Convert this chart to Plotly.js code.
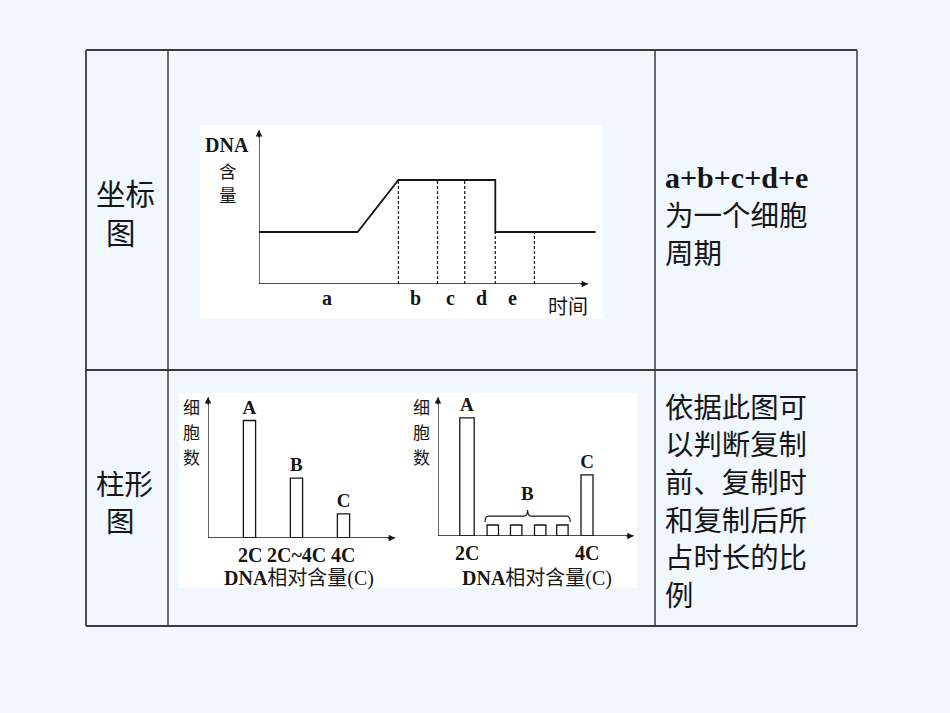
<!DOCTYPE html>
<html>
<head>
<meta charset="utf-8">
<script src="https://cdn.plot.ly/plotly-3.0.1.min.js"></script>
<style>html,body{margin:0;padding:0;background:#F0F7FE;}#chart{width:950px;height:713px;}</style>
</head>
<body>
<div id="chart"></div>
<script>
// ---------- data ----------
// chart 1: DNA content over one cell cycle
const cycleTime   = [0, 2.9, 4.1, 6.95, 6.95, 9.9];
const dnaContent  = [1, 1, 2, 2, 1, 1];
const phaseBounds = [4.1, 5.25, 6.05, 6.95, 8.1];
const boundLevels = [2, 2, 2, 1, 1];
const phaseNames  = ['a', 'b', 'c', 'd', 'e'];
const phaseMids   = [2.0, 4.6, 5.62, 6.53, 7.47];

// chart 2: cell counts by DNA content group
const groupCats   = ['2C', '2C~4C', '4C'];
const groupCounts = [10, 5.1, 2.05];
const groupNames  = ['A', 'B', 'C'];

// chart 3: cell counts by DNA relative content
const dnaLevels   = [2, 2.43, 2.82, 3.22, 3.59, 4];
const levelCounts = [10.2, 0.95, 0.95, 0.95, 0.95, 5.27];
const levelNames  = ['A', '', '', '', '', 'C'];
const levelTickVals = [2, 4];
const levelTickText = ['2C', '4C'];

// table texts
const leftTop    = ['坐标', '图'];
const leftBottom = ['柱形', '图'];
const rightTop   = ['a+b+c+d+e', '为一个细胞', '周期'];
const rightBottom = ['依据此图可', '以判断复制', '前、复制时', '和复制后所', '占时长的比', '例'];
const yLabelChars = ['细', '胞', '数'];
const dnaLabelChars = ['含', '量'];

// ---------- helpers ----------
const W = 950, H = 713;
const fx = p => p / W;
const fy = p => 1 - p / H;
const INK = '#161616';
const SERIF = 'Liberation Serif, Noto Sans CJK SC, serif';
const CJK = 'Noto Sans CJK SC, sans-serif';

// ---------- traces ----------
const dashX = [], dashY = [];
phaseBounds.forEach((b, i) => { dashX.push(b, b, null); dashY.push(0, boundLevels[i], null); });

const barText = {family: SERIF, size: 19, color: INK, weight: 'bold'};
const traces = [
  {type: 'scatter', mode: 'lines', x: cycleTime, y: dnaContent, xaxis: 'x', yaxis: 'y',
   line: {color: INK, width: 1.8}, hoverinfo: 'skip', showlegend: false, cliponaxis: false},
  {type: 'scatter', mode: 'lines', x: dashX, y: dashY, xaxis: 'x', yaxis: 'y',
   line: {color: INK, width: 1.2, dash: '3px,2px'}, hoverinfo: 'skip', showlegend: false},
  {type: 'bar', x: groupCats, y: groupCounts, xaxis: 'x2', yaxis: 'y2', width: 0.26,
   marker: {color: '#ffffff', line: {color: INK, width: 1.3}},
   text: groupNames, textposition: 'outside', cliponaxis: false, constraintext: 'none',
   textfont: barText, showlegend: false, hoverinfo: 'skip'},
  {type: 'bar', x: dnaLevels, y: levelCounts, xaxis: 'x3', yaxis: 'y3',
   width: [0.24, 0.19, 0.19, 0.19, 0.19, 0.2],
   marker: {color: '#ffffff', line: {color: INK, width: 1.3}},
   text: levelNames, textposition: 'outside', cliponaxis: false, constraintext: 'none',
   textfont: barText, showlegend: false, hoverinfo: 'skip'}
];

// ---------- axes ----------
const hidden = {showgrid: false, zeroline: false, showline: false, showticklabels: false, ticks: '', fixedrange: true};

// ---------- shapes ----------
const line = (x0, y0, x1, y1, w) => ({type: 'line', xref: 'paper', yref: 'paper',
  x0: fx(x0), y0: fy(y0), x1: fx(x1), y1: fy(y1), line: {color: '#3a3a3a', width: w || 1.5}, layer: 'above'});
const panel = (x0, y0, x1, y1) => ({type: 'rect', xref: 'paper', yref: 'paper', layer: 'below',
  x0: fx(x0), y0: fy(y0), x1: fx(x1), y1: fy(y1), fillcolor: '#ffffff', line: {width: 0}});

// brace over the small B bars, derived from their positions
const bLeft = dnaLevels[1] - 0.13, bRight = dnaLevels[4] + 0.13, bMid = (bLeft + bRight) / 2;
const yEnd = 1.2, yBar = 1.72, yTip = 2.25, dx = 0.06;
const bracePath = `M ${bLeft},${yEnd} Q ${bLeft},${yBar} ${bLeft + dx},${yBar} L ${bMid - dx},${yBar} ` +
  `Q ${bMid},${yBar} ${bMid},${yTip} Q ${bMid},${yBar} ${bMid + dx},${yBar} L ${bRight - dx},${yBar} ` +
  `Q ${bRight},${yBar} ${bRight},${yEnd}`;

const shapes = [
  panel(200, 125, 603, 319),
  panel(179, 393, 637, 588),
  line(86, 50, 857, 50, 2), line(86, 626, 857, 626, 1.8),
  line(86, 50, 86, 626, 1.8), line(857, 50, 857, 626, 1.5),
  line(168, 50, 168, 626, 1.5), line(655, 50, 655, 626, 1.5),
  line(86, 370, 857, 370, 1.8),
  {type: 'path', xref: 'x3', yref: 'y3', path: bracePath, line: {color: INK, width: 1.2}}
];

// ---------- axis lines with arrow tips ----------
const ann = [];
const axisArrow = (xr, yr, x0, y0, x1, y1, horiz) => {
  shapes.push({type: 'line', xref: xr, yref: yr, x0: x0, y0: y0, x1: x1, y1: y1,
    line: {color: INK, width: 1.3}});
  ann.push({xref: xr, yref: yr, axref: 'pixel', ayref: 'pixel', x: x1, y: y1,
    ax: horiz ? -9 : 0, ay: horiz ? 0 : 9, showarrow: true, arrowhead: 2, arrowsize: 1,
    arrowwidth: 1.3, arrowcolor: INK, text: ''});
};
axisArrow('x', 'y', 0, 0, 9.68, 0, true);      axisArrow('x', 'y', 0, 0, 0, 2.96, false);
axisArrow('x2', 'y2', -0.883, 0, 3.1, 0, true); axisArrow('x2', 'y2', -0.883, 0, -0.883, 12, false);
axisArrow('x3', 'y3', 1.517, 0, 4.78, 0, true); axisArrow('x3', 'y3', 1.517, 0, 1.517, 12, false);

const txt = (x, y, text, size, family, anchor, extra) => ann.push(Object.assign({
  xref: 'paper', yref: 'paper', x: fx(x), y: fy(y), text: text, showarrow: false,
  xanchor: anchor || 'center', yanchor: 'middle', borderpad: 0,
  font: {family: family, size: size, color: INK}}, extra || {}));

// chart 1 labels
txt(227, 145, '<b>DNA</b>', 20, SERIF);
dnaLabelChars.forEach((c, i) => txt(228, 170 + i * 24.5, c, 17.5, CJK));
txt(568, 305, '时间', 20, CJK);
phaseNames.forEach((n, i) => ann.push({xref: 'x', yref: 'paper', x: phaseMids[i], y: fy(298),
  text: '<b>' + n + '</b>', showarrow: false, xanchor: 'center', yanchor: 'middle', borderpad: 0,
  font: {family: SERIF, size: 20, color: INK}}));

// chart 2 labels
yLabelChars.forEach((c, i) => txt(191, 407 + i * 24.5, c, 17, CJK));
groupCats.forEach((c, i) => ann.push({xref: 'x2', yref: 'paper', x: i, y: fy(555),
  text: '<b>' + c + '</b>', showarrow: false, xanchor: 'center', yanchor: 'middle', borderpad: 0,
  font: {family: SERIF, size: 20, color: INK}}));
txt(299, 578, '<b>DNA</b>相对含量(C)', 20, SERIF);

// chart 3 labels
yLabelChars.forEach((c, i) => txt(421, 407 + i * 24.5, c, 17, CJK));
levelTickVals.forEach((v, i) => ann.push({xref: 'x3', yref: 'paper', x: v, y: fy(553),
  text: '<b>' + levelTickText[i] + '</b>', showarrow: false, xanchor: 'center', yanchor: 'middle', borderpad: 0,
  font: {family: SERIF, size: 20, color: INK}}));
ann.push({xref: 'x3', yref: 'y3', x: bMid, y: yTip + 0.4, text: '<b>B</b>', showarrow: false, borderpad: 0,
  xanchor: 'center', yanchor: 'bottom', font: {family: SERIF, size: 19, color: INK}});
txt(537, 578, '<b>DNA</b>相对含量(C)', 20, SERIF);

// table texts
txt(95, 192, leftTop[0], 29.5, CJK, 'left');
txt(105, 231, leftTop[1], 29.5, CJK, 'left');
txt(95, 482, leftBottom[0], 28.5, CJK, 'left');
txt(105, 519.5, leftBottom[1], 28.5, CJK, 'left');
txt(664, 177, '<b>' + rightTop[0] + '</b>', 30, SERIF, 'left');
txt(664, 214, rightTop[1], 28.5, CJK, 'left');
txt(664, 251, rightTop[2], 28.5, CJK, 'left');
rightBottom.forEach((t, i) => txt(664, 405 + i * 37.7, t, 28.4, CJK, 'left'));

const layout = {
  width: W, height: H, margin: {l: 0, r: 0, t: 0, b: 0},
  paper_bgcolor: '#F0F7FE', plot_bgcolor: 'rgba(0,0,0,0)', showlegend: false,
  xaxis: Object.assign({}, hidden, {domain: [fx(259), fx(599)], range: [0, 10], anchor: 'y'}),
  yaxis: Object.assign({}, hidden, {domain: [fy(284), fy(128)], range: [0, 3], anchor: 'x'}),
  xaxis2: Object.assign({}, hidden, {domain: [fx(208), fx(398)], range: [-0.883, 3.16], type: 'category', anchor: 'y2'}),
  yaxis2: Object.assign({}, hidden, {domain: [fy(538), fy(397)], range: [0, 12], anchor: 'x2'}),
  xaxis3: Object.assign({}, hidden, {domain: [fx(438), fx(637)], range: [1.517, 4.833], anchor: 'y3'}),
  yaxis3: Object.assign({}, hidden, {domain: [fy(536), fy(397)], range: [0, 12], anchor: 'x3'}),
  shapes: shapes, annotations: ann, bargap: 0
};

Plotly.newPlot('chart', traces, layout, {displayModeBar: false, staticPlot: true});
</script>
</body>
</html>
